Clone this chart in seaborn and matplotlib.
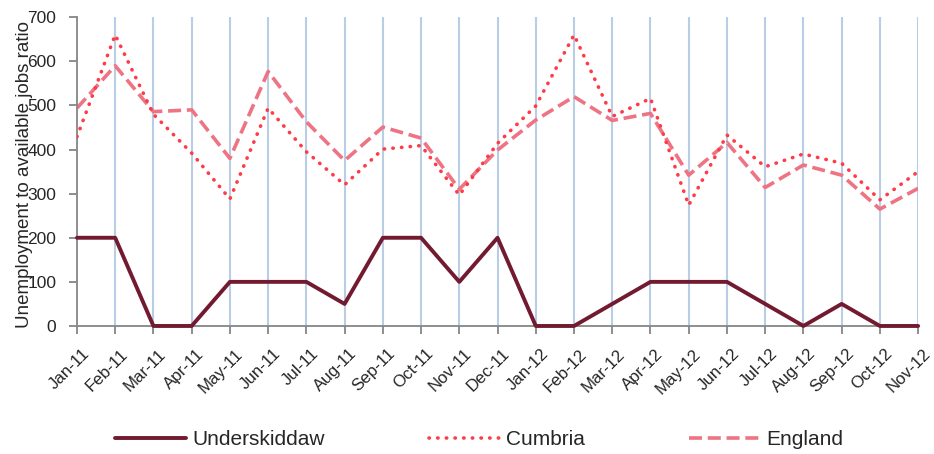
import numpy as np
import pandas as pd
import matplotlib
matplotlib.use("Agg")
import matplotlib.pyplot as plt
import matplotlib.transforms as mtransforms
import seaborn as sns

months = ["Jan-11", "Feb-11", "Mar-11", "Apr-11", "May-11", "Jun-11", "Jul-11",
          "Aug-11", "Sep-11", "Oct-11", "Nov-11", "Dec-11", "Jan-12", "Feb-12",
          "Mar-12", "Apr-12", "May-12", "Jun-12", "Jul-12", "Aug-12", "Sep-12",
          "Oct-12", "Nov-12"]
underskiddaw = [200, 200, 0, 0, 100, 100, 100, 50, 200, 200, 100, 200,
                0, 0, 50, 100, 100, 100, 50, 0, 50, 0, 0]
cumbria = [429, 660, 480, 392, 288, 494, 395, 320, 401, 409, 297, 414,
           499, 660, 475, 516, 274, 433, 361, 390, 369, 286, 350]
england = [494, 590, 486, 490, 380, 577, 463, 375, 451, 426, 310, 399,
           467, 520, 466, 482, 342, 416, 314, 365, 342, 265, 312]

df = pd.DataFrame({"pos": np.arange(len(months)), "month": months,
                   "Underskiddaw": underskiddaw, "Cumbria": cumbria,
                   "England": england})

sns.set_style("white")
plt.rcParams["font.family"] = ["Liberation Sans", "DejaVu Sans"]

fig, ax = plt.subplots(figsize=(9.34, 4.54), dpi=100)
fig.subplots_adjust(left=0.0824, right=0.983, bottom=0.282, top=0.962)

sns.lineplot(data=df, x="pos", y="Underskiddaw", ax=ax, color="#721A30",
             linewidth=2.8, label="Underskiddaw", clip_on=False, zorder=4)
sns.lineplot(data=df, x="pos", y="Cumbria", ax=ax, color="#FF3B47",
             linewidth=2.6, linestyle=(0, (0.1, 2.3)), dash_capstyle="round",
             label="Cumbria", zorder=3)
sns.lineplot(data=df, x="pos", y="England", ax=ax, color="#EE7383",
             linewidth=2.6, linestyle=(0, (3.6, 1.6)), label="England", zorder=2)

ax.set_xlim(0, len(months) - 1)
ax.set_ylim(0, 700)
ax.set_yticks(range(0, 701, 100))
ax.set_xticks(df["pos"])
ax.set_xticklabels([""] * len(months))

# month labels sit lower and to the right of their ticks, like the excel original
offset = mtransforms.ScaledTranslation(0.10, -0.255, fig.dpi_scale_trans)
for x, m in zip(df["pos"], df["month"]):
    ax.text(x, 0, m, transform=ax.get_xaxis_transform() + offset,
            rotation=45, ha="right", va="center", rotation_mode="anchor",
            fontsize=12.2, color="#262626")

ax.tick_params(axis="y", labelsize=12.5, length=6, width=1.3, color="#868686",
               pad=9)
ax.tick_params(axis="x", length=6, width=1.3, color="#868686", pad=2,
               bottom=True)
ax.tick_params(axis="y", left=True)

ax.set_xlabel("")
ax.set_ylabel("Unemployment to available jobs ratio", fontsize=13.5)
ax.yaxis.set_label_coords(-0.052, 0.49)

for x in df["pos"][1:]:
    ax.axvline(x, color="#B9CDE5", linewidth=1.5, zorder=0)

for s in ["top", "right"]:
    ax.spines[s].set_visible(False)
for s in ["left", "bottom"]:
    ax.spines[s].set_color("#868686")
    ax.spines[s].set_linewidth(1.3)

ax.legend(loc="center", bbox_to_anchor=(479 / 934, 0.031),
          bbox_transform=fig.transFigure, ncol=3, frameon=False,
          fontsize=15, handlelength=3.4, handletextpad=0.3,
          columnspacing=5.0)

fig.savefig("out.png", dpi=100)
